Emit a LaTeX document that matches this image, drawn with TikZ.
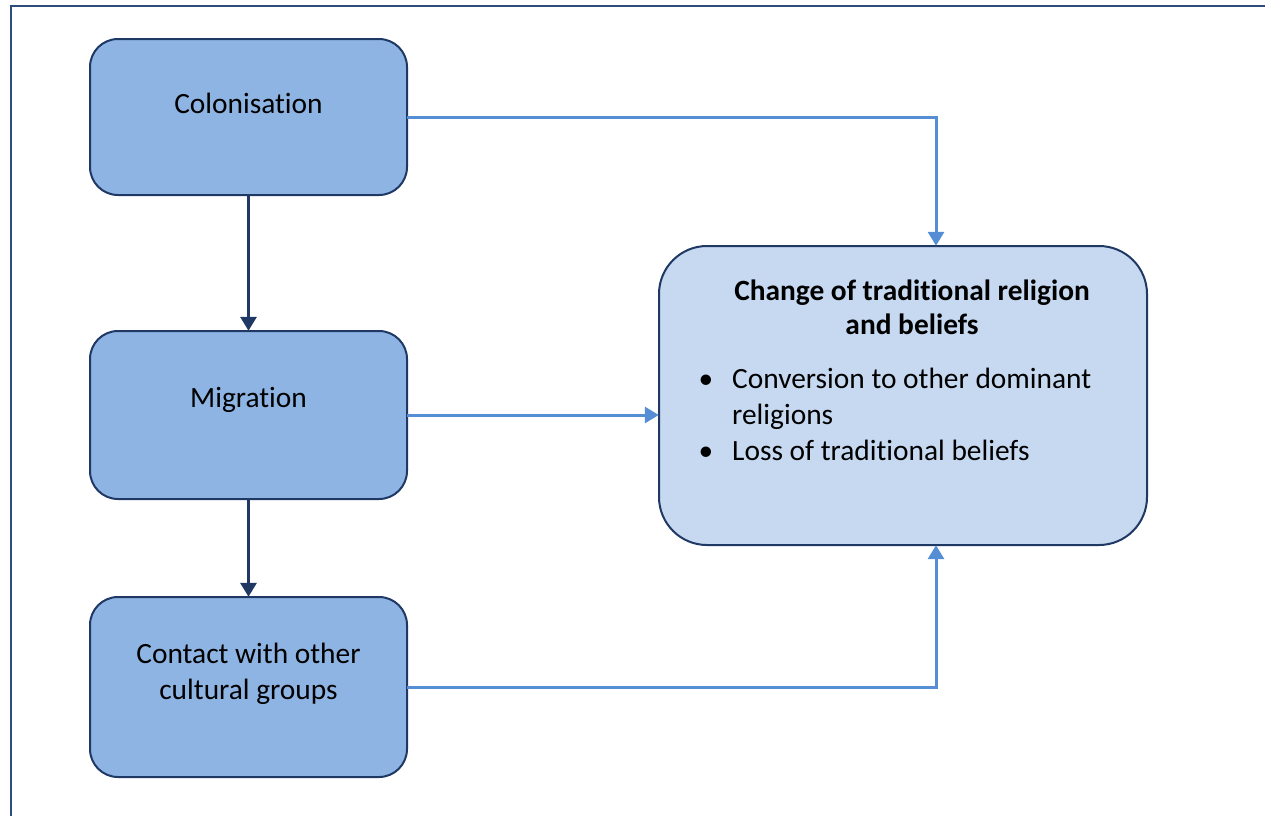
\documentclass[tikz,border=0pt]{standalone}
\usepackage{fontspec}
\setmainfont{Carlito}[RawFeature={-liga;-clig;-dlig}]
\usetikzlibrary{arrows.meta}
\definecolor{boxfill}{HTML}{8EB4E3}
\definecolor{boxline}{HTML}{1F3864}
\definecolor{panelfill}{HTML}{C6D9F1}
\definecolor{lightarrow}{HTML}{558ED5}
\definecolor{darkarrow}{HTML}{1F3864}
\definecolor{framecol}{HTML}{2E4D7B}
\tikzset{
  cause/.style={draw=boxline, line width=2pt, fill=boxfill, rounded corners=28pt},
  panel/.style={draw=boxline, line width=2pt, fill=panelfill, rounded corners=48pt},
  txt/.style={font=\fontsize{29.4}{36}\selectfont, anchor=base, inner sep=0pt},
  txtl/.style={txt, anchor=base west},
  downarrow/.style={draw=darkarrow, line width=3pt, -{Triangle[length=14pt,width=16pt]}},
  feed/.style={draw=lightarrow, line width=3pt, -{Triangle[length=14pt,width=16pt]}},
}
\begin{document}
\begin{tikzpicture}[x=1pt,y=-1pt]
\useasboundingbox (0,0) rectangle (1265,815);
\clip (0,0) rectangle (1265,815);
% outer frame, open at right and bottom
\draw[framecol, line width=2pt] (11,830) -- (11,6) -- (1280,6);

% cause boxes
\path[cause] (90,39) rectangle (407,195);
\path[cause] (90,331) rectangle (407,499);
\path[cause] (90,597) rectangle (407,777);
\node[minimum width=317pt, minimum height=156pt, inner sep=0pt] (colon) at (248.5,117) {};
\node[minimum width=317pt, minimum height=168pt, inner sep=0pt] (migr) at (248.5,415) {};
\node[minimum width=317pt, minimum height=180pt, inner sep=0pt] (contact) at (248.5,687) {};
\node[txt] (colont) at (248.5,113) {Colonisation};
\node[txt] (migrt) at (248.5,407) {Migration};
\node[txt] (contt1) at (248.5,663) {Contact with other};
\node[txt] (contt2) at (248.5,699) {cultural groups};

% effect panel
\path[panel] (659,246) rectangle (1147,545);
\node[minimum width=488pt, minimum height=299pt, inner sep=0pt] (change) at (903,395.5) {};
\node[txt, font=\fontsize{29.4}{36}\selectfont\bfseries] (title1) at (912,300) {Change of traditional religion};
\node[txt, font=\fontsize{29.4}{36}\selectfont\bfseries] (title2) at (912,334) {and beliefs};
\node[txt] (b1) at (706,388) {•};
\node[txtl] (item1a) at (732,388) {Conversion to other dominant};
\node[txtl] (item1b) at (732,424) {religions};
\node[txt] (b2) at (706,460) {•};
\node[txtl] (item2) at (732,460) {Loss of traditional beliefs};

% connectors
\coordinate (k1) at (936,117);
\coordinate (k3) at (936,687);
\draw[downarrow] (colon.south) -- (migr.north);
\draw[downarrow] (migr.south) -- (contact.north);
\draw[feed] (colon.east) -- (k1) -- (k1 |- change.north);
\draw[feed] (migr.east) -- (change.west |- migr.east);
\draw[feed] (contact.east) -- (k3) -- (k3 |- change.south);
\end{tikzpicture}
\end{document}
